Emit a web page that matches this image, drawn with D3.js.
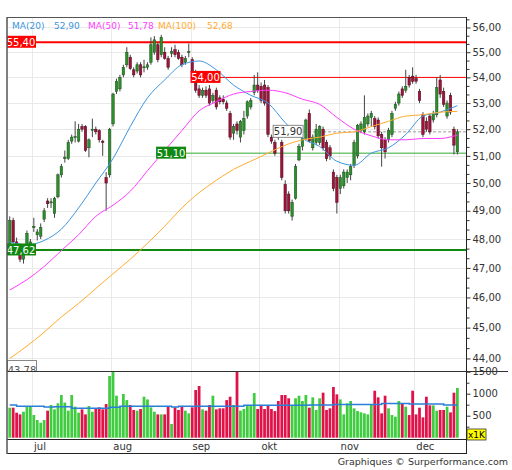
<!DOCTYPE html>
<html>
<head>
<meta charset="utf-8">
<script src="https://cdn.jsdelivr.net/npm/d3@7"></script>
<style>
  body { margin: 0; background: #fff; }
  svg { display: block; font-family: "DejaVu Sans", Verdana, sans-serif; }
</style>
</head>
<body>
<svg id="chart" width="512" height="470"></svg>
<script>
// Month labels and the bar index where each month starts
const months = ['jul', 'aug', 'sep', 'okt', 'nov', 'dec'];
const monthStart = [7, 30, 53, 73, 96, 118];

// Daily OHLC
const open = [47.75,48.65,47.9,47.7,47.3,47.75,47.75,48.4,48.15,48.1,
  48.7,49.35,49.28,48.9,49.5,50.3,50.9,50.9,51.55,51.68,
  51.55,52.1,52.1,51.3,51.95,52.0,51.95,51.55,50.2,50.3,
  52.2,53.45,53.55,54.1,54.5,54.8,54.3,54.25,54.5,54.38,
  54.4,54.6,55.0,55.3,54.9,55.0,54.75,54.95,55.1,55.0,
  54.8,54.6,54.98,54.7,54.2,53.55,53.3,53.5,53.55,53.1,
  53.5,53.2,53.15,53.0,52.6,51.85,52.2,51.7,51.95,52.5,
  52.85,53.4,53.7,53.65,53.7,53.6,51.7,51.5,51.9,51.5,
  49.95,49.6,48.8,49.45,50.85,51.35,51.65,52.6,51.3,51.5,
  51.5,52.0,51.5,51.3,50.4,50.2,49.8,49.9,50.2,50.3,
  50.65,51.0,51.95,51.9,52.2,52.45,52.4,52.35,51.8,51.6,
  51.6,51.8,52.8,53.0,53.55,53.5,54.0,54.05,53.95,53.45,
  52.55,52.3,52.5,52.35,52.55,53.9,53.45,52.5,53.3,52.0,
  51.15];
const high = [48.8,48.75,48.05,47.8,47.6,48.3,48.0,48.75,48.35,48.55,
  49.1,49.45,49.45,49.5,50.35,50.7,51.2,51.6,51.8,52.3,
  52.2,52.2,52.15,51.65,52.4,52.1,52.0,51.6,50.4,52.05,
  53.4,53.95,54.1,54.5,55.2,54.9,54.4,54.6,54.6,54.7,
  54.6,55.6,55.65,55.4,55.7,55.2,54.85,55.2,55.3,55.1,
  54.9,54.85,55.35,54.8,54.3,53.7,53.6,53.65,53.7,53.4,
  53.6,53.3,53.3,53.1,52.7,52.2,52.3,52.35,52.7,53.1,
  53.2,54.1,54.2,53.8,53.9,53.7,51.8,51.6,52.0,51.6,
  50.1,49.7,49.4,50.7,51.45,51.7,52.4,52.75,51.8,52.2,
  52.15,52.1,51.6,51.4,50.5,50.3,50.3,50.5,50.5,50.7,
  51.6,52.2,52.3,53.3,52.6,52.7,52.5,52.45,51.9,51.7,
  52.05,52.7,53.05,53.45,53.65,54.3,54.1,54.4,54.1,53.55,
  52.65,52.45,52.6,52.7,54.0,54.1,53.6,53.1,53.4,52.1,
  52.0];
const low = [47.65,47.85,47.6,47.2,47.15,47.65,47.6,48.25,47.95,48.0,
  48.6,49.1,49.1,48.75,49.45,50.2,50.75,50.85,51.45,51.5,
  51.5,51.9,51.15,50.95,51.7,51.8,51.5,51.0,49.0,50.2,
  52.1,53.35,53.45,54.0,54.4,54.3,54.0,54.15,54.0,54.2,
  54.3,54.5,54.9,54.6,54.8,54.7,54.3,54.8,54.8,54.7,
  54.4,54.5,54.8,54.1,53.4,53.2,53.2,53.2,52.9,53.0,
  52.75,52.95,52.95,52.7,51.6,51.6,51.8,51.5,51.8,52.4,
  52.75,53.3,53.4,53.0,52.9,51.7,51.45,51.0,51.6,50.1,
  48.9,48.9,48.65,49.4,50.8,51.2,51.6,51.5,51.2,51.4,
  51.4,51.2,50.8,50.85,49.7,48.9,49.6,49.8,50.0,50.1,
  50.55,50.9,51.85,51.8,52.1,52.1,52.0,51.65,50.6,50.9,
  51.5,51.7,52.7,52.9,53.2,53.4,53.6,53.75,53.75,53.0,
  51.7,51.9,51.8,52.25,52.45,53.2,52.85,52.4,52.55,51.05,
  51.05];
const close = [48.65,47.9,47.7,47.3,47.5,48.2,47.9,48.45,48.25,48.4,
  49.0,49.25,49.32,49.45,50.3,50.6,50.95,51.5,51.7,51.72,
  52.0,52.0,51.2,51.6,52.0,51.9,51.6,51.5,50.0,52.0,
  53.35,53.85,54.0,54.4,55.0,54.35,54.1,54.5,54.1,54.42,
  54.5,55.3,55.5,54.7,55.6,54.75,54.4,55.02,54.9,54.75,
  54.5,54.75,55.02,54.2,53.5,53.3,53.5,53.3,53.0,53.3,
  52.85,53.05,53.05,52.8,51.7,52.1,51.95,52.3,52.4,53.05,
  53.1,53.7,53.5,53.1,53.0,51.8,51.55,51.1,51.7,50.2,
  49.0,49.0,49.3,50.6,51.35,51.65,52.35,51.55,51.7,52.0,
  52.1,51.3,50.9,51.0,49.8,49.3,50.2,50.4,50.4,50.6,
  51.5,52.15,52.2,52.45,52.5,52.6,52.1,51.75,51.3,51.15,
  51.95,52.6,52.95,53.35,53.3,53.65,53.7,53.85,53.85,53.1,
  51.8,52.0,51.9,52.6,53.6,53.35,52.95,53.0,52.65,51.4,
  51.9];

// Volume in thousands
const volume = [682,682,568,530,590,705,705,516,402,341,
  402,614,743,644,782,970,797,614,970,705,
  568,644,530,720,590,667,690,644,765,1402,
  1520,955,705,993,855,743,630,614,652,932,
  870,690,590,530,530,530,705,311,690,630,
  705,614,553,690,1084,1175,644,614,743,955,
  644,667,667,855,932,743,1560,614,652,720,
  720,1015,652,720,652,720,652,606,834,970,
  970,895,735,895,955,834,970,682,917,630,
  895,1023,630,667,1152,985,870,530,780,834,
  667,606,576,553,530,743,1068,917,553,955,
  667,515,477,834,780,705,515,1068,530,682,
  462,932,735,735,614,630,630,705,576,1023,
  1130];

// Moving averages sampled every 5 bars
const maIdx = [0,5,10,15,20,25,30,35,40,45,50,55,60,65,70,75,80,85,90,95,100,105,110,115,120,125,130];
const ma20 = [47.9,47.8,47.95,48.35,49.1,50.0,50.9,52.1,53.2,53.9,54.5,54.65,54.3,53.7,53.3,53.0,52.25,51.65,51.35,50.8,50.65,51.1,51.3,51.8,52.5,52.65,52.9];
const ma50 = [46.25,46.6,47.05,47.6,48.15,48.8,49.2,49.7,50.45,51.2,51.95,52.7,53.05,53.35,53.45,53.5,53.4,53.15,52.95,52.45,52.0,51.75,51.6,51.6,51.65,51.65,51.78];
const ma100 = [44.0,44.4,44.85,45.35,45.8,46.3,46.8,47.3,47.85,48.45,49.1,49.65,50.1,50.5,50.8,51.1,51.4,51.6,51.7,51.85,51.9,52.1,52.3,52.5,52.55,52.65,52.68];
const maLast = ['52,90', '51,78', '52,68'];

// Volume average (steps)
const volMaIdx = [0,2,10,13,18,29,32,47,49,68,87,94,108,116,126,130];
const volMaVal = [743,715,695,705,667,690,715,700,715,740,745,755,780,765,745,745];

// Horizontal levels and the bar where each begins
const levelValue = [55.40, 47.62, 54.00, 51.10, 51.90];
const levelStart = [0, 0, 53, 43, 77];
const hiddenLevel = 43.78;

const priceTicks = [44,45,46,47,48,49,50,51,52,53,54,55,56];
const volTicks = [500, 1000, 1500];

const svg = d3.select('#chart');
const L = 7, R = 466, T = 17, PB = 371, VB = 439, DB = 453;
const nSlots = 133;

const x = d3.scaleBand().domain(d3.range(nSlots)).range([8, R]);
const bw = x.bandwidth();
const cx = i => x(i) + bw / 2;
const y = d3.scaleLog().domain([43.6, 56.43]).range([PB, T]);
const yv = d3.scaleLinear().domain([0, 1516]).range([437.7, PB]);
const fmt = v => d3.format('.2f')(v).replace('.', ',');

const defs = svg.append('defs');
defs.append('clipPath').attr('id', 'cp').append('rect')
  .attr('x', L).attr('y', T).attr('width', R - L).attr('height', PB - T);
defs.append('clipPath').attr('id', 'cv').append('rect')
  .attr('x', L).attr('y', PB).attr('width', R - L).attr('height', VB - PB);

// Grid
const grid = svg.append('g').attr('stroke', '#e9e9e9').attr('stroke-width', 1);
grid.selectAll('line.h').data(priceTicks).join('line')
  .attr('x1', L).attr('x2', R)
  .attr('y1', d => Math.round(y(d)) + 0.5).attr('y2', d => Math.round(y(d)) + 0.5);
grid.selectAll('line.v').data(monthStart).join('line')
  .attr('x1', d => Math.round(x(d)) + 0.5).attr('x2', d => Math.round(x(d)) + 0.5)
  .attr('y1', T).attr('y2', VB);

const price = svg.append('g').attr('clip-path', 'url(#cp)');

// Level lines
const levelColor = ['#ff0000', '#118811', '#ff0000', '#33aa33', '#999'];
const levelWidth = [2, 2, 1, 1, 1];
price.selectAll('line.lvl').data(levelValue).join('line')
  .attr('x1', (d, i) => x(levelStart[i])).attr('x2', R)
  .attr('y1', d => y(d)).attr('y2', d => y(d))
  .attr('stroke', (d, i) => levelColor[i])
  .attr('stroke-width', (d, i) => levelWidth[i])
  .attr('stroke-dasharray', (d, i) => i === 4 ? '3,2' : null);

// Candles
const idx = d3.range(close.length);
const candles = price.append('g');
candles.selectAll('line').data(idx).join('line')
  .attr('x1', i => cx(i)).attr('x2', i => cx(i))
  .attr('y1', i => y(high[i])).attr('y2', i => y(low[i]))
  .attr('stroke', '#444').attr('stroke-width', 1);
candles.selectAll('rect').data(idx).join('rect')
  .attr('x', i => cx(i) - bw * 0.36)
  .attr('width', bw * 0.72)
  .attr('y', i => y(Math.max(open[i], close[i])))
  .attr('height', i => Math.max(1, y(Math.min(open[i], close[i])) - y(Math.max(open[i], close[i]))))
  .attr('fill', i => close[i] >= open[i] ? '#2c8f2c' : '#a0143c')
  .attr('stroke', i => close[i] >= open[i] ? '#1a4f1a' : '#4a0818')
  .attr('stroke-width', 0.5);

// Moving averages
const maLine = arr => d3.line()
  .x((d, k) => cx(maIdx[k])).y(d => y(d))
  .curve(d3.curveMonotoneX)(arr);
const maColor = ['#3d95e0', '#ff3cff', '#ffac30'];
[ma20, ma50, ma100].forEach((arr, k) => {
  price.append('path').attr('d', maLine(arr))
    .attr('fill', 'none').attr('stroke', maColor[k]).attr('stroke-width', 1);
});

// Level labels
const labelFill = ['#ff0000', '#118811', '#ff0000', '#118811', '#fff'];
const labelText = ['#fff', '#fff', '#fff', '#fff', '#333'];
const labels = svg.append('g').attr('clip-path', 'url(#cp)')
  .attr('font-size', 10);
levelValue.forEach((v, i) => {
  const x0 = i < 2 ? L - 1 : x(levelStart[i]);
  const g = labels.append('g').attr('transform', `translate(${x0},${y(v)})`);
  g.append('rect').attr('x', 0).attr('y', -6.5).attr('width', 30).attr('height', 12)
    .attr('fill', labelFill[i]).attr('stroke', i === 4 ? '#888' : 'none');
  g.append('text').attr('x', 15).attr('y', 3.6).attr('text-anchor', 'middle')
    .attr('fill', labelText[i]).text(fmt(v));
});
// label of a level just under the visible range, mostly cut off
const hl = labels.append('g').attr('transform', `translate(${L},360)`);
hl.append('rect').attr('x', 0.5).attr('y', 0.5).attr('width', 29).attr('height', 14)
  .attr('fill', '#fff').attr('stroke', '#888');
hl.append('text').attr('x', 15).attr('y', 13.5).attr('text-anchor', 'middle')
  .attr('fill', '#555').text(fmt(hiddenLevel));

// Legend
const legend = svg.append('g').attr('font-size', 9);
const legName = ['MA(20)', 'MA(50)', 'MA(100)'];
const legX = [12, 88, 158];
const valX = [54, 128, 207];
legName.forEach((n, k) => {
  legend.append('text').attr('x', legX[k]).attr('y', 29).attr('fill', maColor[k]).text(n);
  legend.append('text').attr('x', valX[k]).attr('y', 29).attr('fill', maColor[k]).text(maLast[k]);
});

// Volume
const vol = svg.append('g').attr('clip-path', 'url(#cv)');
vol.selectAll('rect').data(idx).join('rect')
  .attr('x', i => cx(i) - bw * 0.4)
  .attr('width', bw * 0.8)
  .attr('y', i => yv(volume[i]))
  .attr('height', i => yv(0) - yv(volume[i]))
  .attr('fill', i => close[i] >= open[i] ? '#3fcc3f' : '#e0124a');
vol.append('path')
  .attr('d', d3.line().x((d, k) => cx(volMaIdx[k])).y(d => yv(d)).curve(d3.curveStepAfter)(volMaVal))
  .attr('fill', 'none').attr('stroke', '#2a7fd6').attr('stroke-width', 1.5);

// Frame
const frame = svg.append('g').attr('stroke', '#555').attr('fill', 'none');
frame.append('line').attr('x1', L).attr('x2', R).attr('y1', T + 0.5).attr('y2', T + 0.5);
frame.append('line').attr('x1', L).attr('x2', 508).attr('y1', PB + 0.5).attr('y2', PB + 0.5).attr('stroke', '#333');
frame.append('line').attr('x1', L).attr('x2', R).attr('y1', VB + 0.5).attr('y2', VB + 0.5).attr('stroke', '#222');
frame.append('line').attr('x1', L).attr('x2', R).attr('y1', DB + 0.5).attr('y2', DB + 0.5).attr('stroke', '#222');
frame.append('line').attr('x1', L).attr('x2', L).attr('y1', T).attr('y2', DB + 1).attr('stroke-width', 1.5);
frame.append('line').attr('x1', R + 0.5).attr('x2', R + 0.5).attr('y1', T).attr('y2', DB + 1).attr('stroke', '#222');

// Price axis
svg.append('g').attr('transform', `translate(${R + 0.5},0)`)
  .call(d3.axisRight(y).tickValues(priceTicks).tickFormat(fmt).tickSize(4).tickPadding(2));
const minor = [];
priceTicks.slice(0, -1).forEach(t => { minor.push(t + 1 / 3, t + 2 / 3); });
minor.push(56 + 1 / 3);
svg.append('g').attr('transform', `translate(${R + 0.5},0)`)
  .call(d3.axisRight(y).tickValues(minor).tickFormat('').tickSize(3));

// Volume axis
svg.append('g').attr('transform', `translate(${R + 0.5},0)`)
  .call(d3.axisRight(yv).tickValues(volTicks).tickFormat(d3.format('d')).tickSize(4).tickPadding(2));
svg.append('g').attr('transform', `translate(${R + 0.5},0)`)
  .call(d3.axisRight(yv).tickValues([250, 750, 1250]).tickFormat('').tickSize(3));

svg.selectAll('.domain').remove();
svg.selectAll('.tick line').attr('stroke', '#333');
svg.selectAll('.tick text').attr('fill', '#333').attr('font-size', 10)
  .attr('font-family', '"DejaVu Sans", Verdana, sans-serif');

// x1K badge
const badge = svg.append('g').attr('transform', 'translate(467,429)');
badge.append('rect').attr('width', 19).attr('height', 11).attr('fill', '#ffff00').attr('stroke', '#333').attr('stroke-width', 0.8);
badge.append('text').attr('x', 9.5).attr('y', 9).attr('text-anchor', 'middle')
  .attr('font-size', 9).attr('fill', '#000').text('x1K');

// Month labels
svg.append('g').attr('font-size', 10).attr('fill', '#333')
  .selectAll('text').data(months).join('text')
  .attr('x', (d, i) => x(monthStart[i]) + 2).attr('y', 450)
  .text(d => d);

// Credit
svg.append('text').attr('x', 508).attr('y', 465).attr('text-anchor', 'end')
  .attr('font-size', 9.5).attr('fill', '#333').text('Graphiques © Surperformance.com');
</script>
</body>
</html>
